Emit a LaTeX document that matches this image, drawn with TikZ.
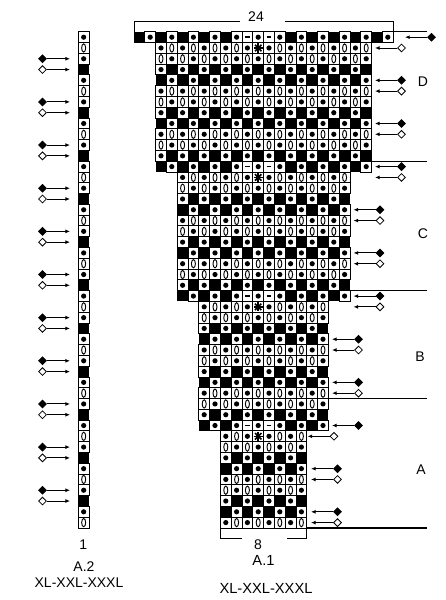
\documentclass[tikz,border=0pt]{standalone}
\usepackage{fontspec}
\setmainfont{Liberation Sans}
\usetikzlibrary{arrows.meta,shapes.geometric}

% one chart square: column, row, symbol (0 black, 1 dot, 2 oval, 3 dash, 4 star)
\newcommand{\knit}[3]{%
  \ifcase#3
    \fill[black] (#1,#2-1) rectangle ++(1,1);
  \or
    \draw[square] (#1,#2-1) rectangle ++(1,1);
    \fill (#1+.5,#2-.5) circle[radius=1.95pt];
  \or
    \draw[square] (#1,#2-1) rectangle ++(1,1);
    \draw[line width=.7pt] (#1+.5,#2-.5) circle[x radius=1.5pt,y radius=3.1pt];
  \or
    \draw[square] (#1,#2-1) rectangle ++(1,1);
    \draw[line width=1.2pt] (#1+.28,#2-.5) -- (#1+.72,#2-.5);
  \or
    \draw[square] (#1,#2-1) rectangle ++(1,1);
    \fill (#1+.5,#2-.5) circle[radius=1.6pt];
    \foreach \a in {0,45,90,135}
      \draw[line width=1.2pt] (#1+.5,#2-.5) +(\a:3.4pt) -- +(\a+180:3.4pt);
  \fi}

\begin{document}
\begin{tikzpicture}[x=0.75pt,y=-0.75pt]
    \tikzstyle{square}=[draw=black,line width=0.7pt,fill=white]
    \tikzstyle{diamark}=[diamond,draw=black,line width=0.6pt,inner sep=0pt,minimum size=6pt]
    \tikzstyle{pointer}=[line width=0.7pt,-{Latex[length=3.5pt,width=3pt]}]
    \tikzstyle{secline}=[line width=0.8pt]
    \tikzstyle{bracket}=[line width=0.7pt]
    \tikzstyle{lbl}=[inner sep=0pt,font=\fontsize{10.5}{12}\selectfont]
    \tikzstyle{size}=[inner sep=0pt,font=\fontsize{11}{13}\selectfont]
    \useasboundingbox (0,0) rectangle (446,600);

    % A.1: increase row on top of each section, then the body
    \begin{scope}[shift={(100.5pt,-23.85pt)},x=8.1pt,y=-8.09pt]
    \foreach \dr/\fc in {1/0,13/2,25/4,37/6}{
      \pgfmathtruncatemacro\lastc{23-\fc}
      \foreach \cc in {\fc,...,\lastc}{
        \pgfmathtruncatemacro\s{mod(\cc,2)}
        \ifnum\cc=10 \def\s{3}\fi
        \ifnum\cc=12 \def\s{3}\fi
        \knit{\cc}{\dr}{\s}
      }
      \pgfmathtruncatemacro\fb{\fc+2}
      \pgfmathtruncatemacro\lb{21-\fc}
      \pgfmathtruncatemacro\nk{min(11,46-\dr)}
      \foreach \kk in {1,...,\nk}{
        \pgfmathtruncatemacro\rr{\dr+\kk}
        \foreach \cc in {\fb,...,\lb}{
          \pgfmathtruncatemacro\s{{0,1,1,2,2,1,1,0}[2*mod(\kk,4)+mod(\cc,2)]}
          \ifnum\kk=1 \ifnum\cc=11 \def\s{4}\fi\fi
          \knit{\cc}{\rr}{\s}
        }
      }
    }
    \end{scope}

    % A.2
    \begin{scope}[shift={(58.7pt,-23.85pt)},x=8.1pt,y=-8.09pt]
    \foreach \rr in {1,...,46}{
      \pgfmathtruncatemacro\s{{0,1,2,1}[mod(\rr,4)]}
      \knit{0}{\rr}{\s}
    }
    \end{scope}

    % section lines and brackets
    \draw [secline] (393.2,31.8)  -- (427,31.8);
    \draw [secline] (371.6,161.2) -- (427,161.2);
    \draw [secline] (350,290.6)   -- (427,290.6);
    \draw [secline] (328.4,398.4) -- (427,398.4);
    \draw [secline] (306.8,528)   -- (427,528);
    \draw [bracket] (134,31.8) |- (240,21.7);
    \draw [bracket] (285,21.7) -| (393.2,31.8);
    \draw [bracket] (220.4,529) |- (241.7,538);
    \draw [bracket] (287,538) -| (306.8,529);

    % row markers, right
    \foreach \rr/\tip/\fillc in {1/405/black,2/375/white,5/375/black,6/375/white,
        9/375/black,10/375/white,13/375/black,14/375/white,
        17/353.5/black,18/353.5/white,21/353.5/black,22/353.5/white,
        25/353.5/black,26/353.5/white,29/332/black,30/332/white,
        33/332/black,34/332/white,37/332/black,38/307.5/white,
        41/311/black,42/311/white,45/311/black,46/311/white}{
      \pgfmathsetmacro\yy{31.8+(\rr-0.5)*10.787}
      \node [diamark,fill=\fillc] (rd\rr) at (\tip+26.5,\yy) {};
      \coordinate (rt\rr) at (\tip,\yy);
      \draw [pointer] (rd\rr) -- (rt\rr);
    }
    % row markers, left
    \foreach \rr in {3,7,...,43}{
      \pgfmathsetmacro\yy{31.8+(\rr-0.5)*10.787}
      \node [diamark,fill=black] (ld\rr) at (42.5,\yy) {};
      \coordinate (lt\rr) at (70,\yy);
      \draw [pointer] (ld\rr) -- (lt\rr);
    }
    \foreach \rr in {4,8,...,44}{
      \pgfmathsetmacro\yy{31.8+(\rr-0.5)*10.787}
      \node [diamark,fill=white] (ld\rr) at (42.5,\yy) {};
      \coordinate (lt\rr) at (70,\yy);
      \draw [pointer] (ld\rr) -- (lt\rr);
    }

    % labels
    \node (secD) at (423,81.7) [lbl] {D};
    \node (secC) at (423,234)  [lbl] {C};
    \node (secB) at (420,357)  [lbl] {B};
    \node (secA) at (421,470)  [lbl] {A};
    \node (wide)   at (256,17)  [lbl] {24};
    \node (narrow) at (258,545) [lbl] {8};
    \node (nameA1) at (263.5,560) [size] {A.1};
    \node (sizeA1) at (266,588) [size] {XL-XXL-XXXL};
    \node (one)    at (83.3,545) [lbl] {1};
    \node (nameA2) at (84,566.7) [lbl] {A.2};
    \node (sizeA2) at (79,583) [lbl] {XL-XXL-XXXL};
\end{tikzpicture}
\end{document}
